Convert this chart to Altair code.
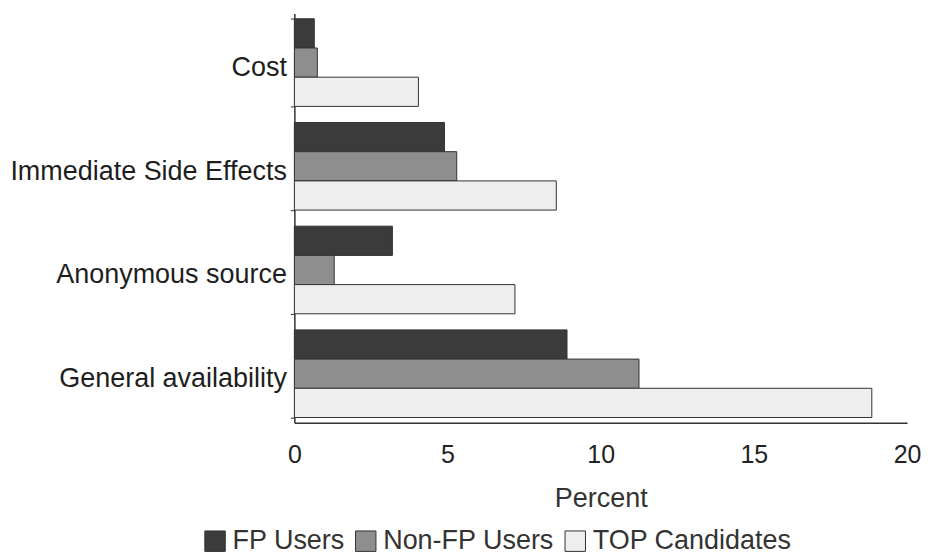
import altair as alt
import pandas as pd

categories = ["Cost", "Immediate Side Effects", "Anonymous source", "General availability"]
series = ["FP Users", "Non-FP Users", "TOP Candidates"]
fp_users = [0.65, 4.9, 3.2, 8.9]
non_fp_users = [0.75, 5.3, 1.3, 11.25]
top_candidates = [4.05, 8.55, 7.2, 18.85]
x_ticks = [0, 5, 10, 15, 20]
colors = ["#3b3b3b", "#8e8e8e", "#eeeeee"]

rows = []
for vals, s in zip([fp_users, non_fp_users, top_candidates], series):
    for c, v in zip(categories, vals):
        rows.append({"Category": c, "Series": s, "Percent": v})
df = pd.DataFrame(rows)

FONT = "Liberation Sans"

chart = alt.Chart(df).mark_bar(stroke="#333333", strokeWidth=1).encode(
    x=alt.X("Percent:Q",
            scale=alt.Scale(domain=[0, 20], nice=False),
            axis=alt.Axis(values=x_ticks, title="Percent", grid=False, ticks=False,
                          labelFontSize=25, labelPadding=20, titleFontSize=27,
                          titleFontWeight="normal", titlePadding=18,
                          labelFlush=False,
                          labelColor="#222222", titleColor="#333333",
                          domainColor="#333333", domainWidth=1.5, format="d")),
    y=alt.Y("Category:N", sort=categories,
            scale=alt.Scale(paddingInner=0.155, paddingOuter=0.05),
            axis=alt.Axis(title=None, labelFontSize=27, labelPadding=4, tickSize=4,
                          labelOffset=5,
                          tickBand="extent", labelColor="#1e1e1e",
                          domainColor="#333333", domainWidth=1.5, tickColor="#333333",
                          minExtent=284, labelLimit=400)),
    yOffset=alt.YOffset("Series:N", sort=series, scale=alt.Scale(paddingInner=0, paddingOuter=0)),
    color=alt.Color("Series:N", sort=series,
                    scale=alt.Scale(domain=series, range=colors),
                    legend=alt.Legend(title=None, orient="none", direction="horizontal",
                                      legendX=-93, legendY=515, symbolType="square",
                                      symbolSize=420, symbolStrokeColor="#333333",
                                      symbolStrokeWidth=1, labelFontSize=27,
                                      labelOffset=4, columnPadding=7,
                                      labelColor="#333333", labelLimit=400)),
).properties(
    width=614, height=410,
    padding={"left": 1, "top": -9, "right": 0, "bottom": 0},
).configure(font=FONT).configure_view(stroke=None)

chart.save("out.html", embed_options={"renderer": "svg", "actions": False})
